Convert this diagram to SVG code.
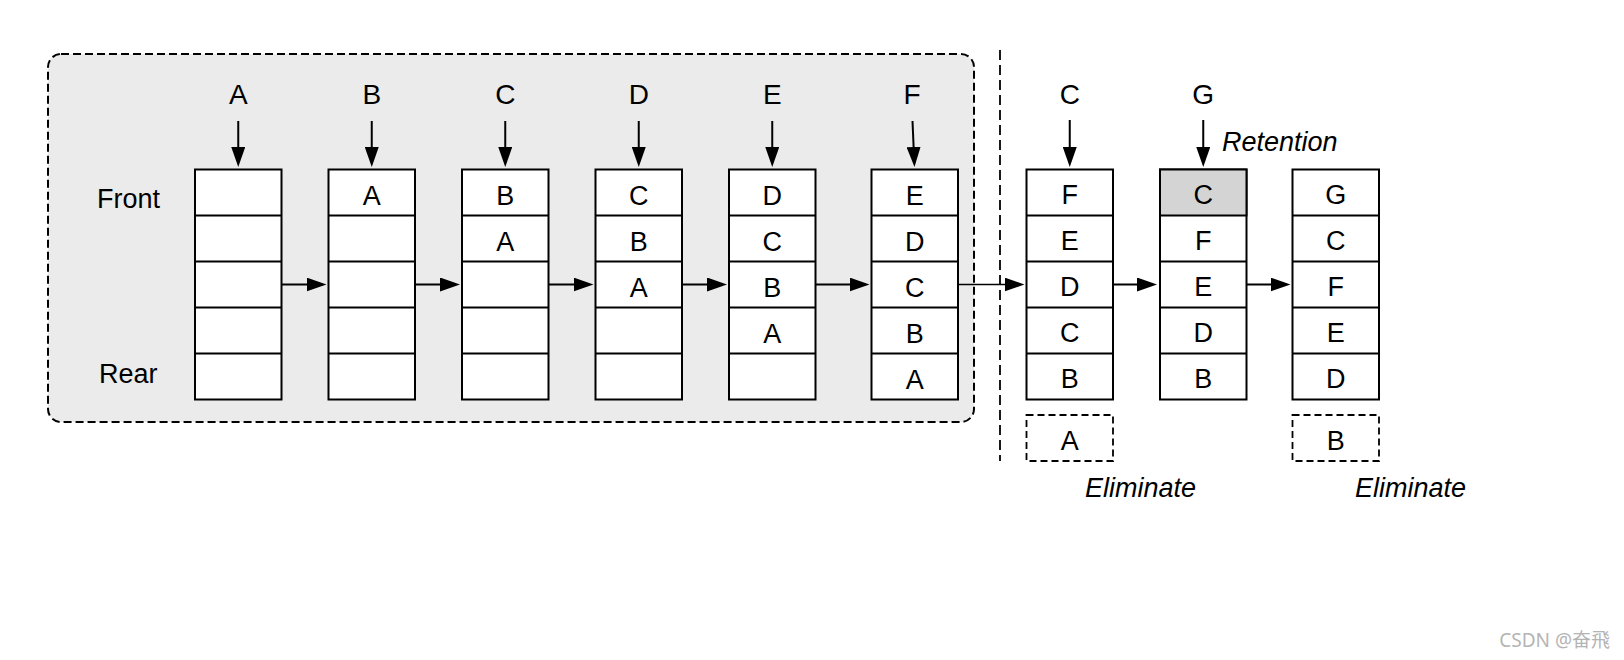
<svg xmlns="http://www.w3.org/2000/svg" width="1624" height="660" viewBox="0 0 1624 660">
<style>
  text { font-family: "Liberation Sans", Arial, Helvetica, sans-serif; fill: #000; }
  .lbl { font-size: 28px; text-anchor: middle; }
  .cell { font-size: 27px; text-anchor: middle; }
  .side { font-size: 27px; }
  .it { font-size: 27px; font-style: italic; }
  .box { fill: #fff; stroke: #000; stroke-width: 2; }
  .div { stroke: #000; stroke-width: 2; }
  .arr { stroke: #000; stroke-width: 2; fill: none; marker-end: url(#ah); }
  .dbox { fill: none; stroke: #000; stroke-width: 1.8; stroke-dasharray: 7 4; }
  .wm { font-family: "Noto Sans", "Noto Sans CJK SC", sans-serif; font-size: 19px; fill: #b4b4b4; text-anchor: end; }
</style>
<defs>
  <marker id="ah" markerUnits="userSpaceOnUse" markerWidth="20" markerHeight="14" refX="16" refY="7" orient="auto">
    <path d="M0,0 L20,7 L0,14 z" fill="#000"/>
  </marker>
</defs>
<rect width="1624" height="660" fill="#fff"/>

<g id="group-box">
  <rect x="48" y="54" width="926" height="368" rx="13" ry="13" fill="#ebebeb" stroke="#000" stroke-width="2" stroke-dasharray="8 4"/>
</g>
<g id="separator">
  <line x1="1000" y1="50" x2="1000" y2="461" stroke="#000" stroke-width="1.8" stroke-dasharray="10 5"/>
</g>

<g id="side-labels">
  <text class="side" x="97" y="208">Front</text>
  <text class="side" x="99" y="383">Rear</text>
</g>

<g id="col1">
  <text class="lbl" x="238.25" y="104">A</text>
  <rect class="box" x="195" y="169.5" width="86.5" height="230"/>
  <line class="div" x1="195" y1="215.5" x2="281.5" y2="215.5"/>
  <line class="div" x1="195" y1="261.5" x2="281.5" y2="261.5"/>
  <line class="div" x1="195" y1="307.5" x2="281.5" y2="307.5"/>
  <line class="div" x1="195" y1="353.5" x2="281.5" y2="353.5"/>
</g>
<g id="col2">
  <text class="lbl" x="371.75" y="104">B</text>
  <rect class="box" x="328.5" y="169.5" width="86.5" height="230"/>
  <line class="div" x1="328.5" y1="215.5" x2="415" y2="215.5"/>
  <line class="div" x1="328.5" y1="261.5" x2="415" y2="261.5"/>
  <line class="div" x1="328.5" y1="307.5" x2="415" y2="307.5"/>
  <line class="div" x1="328.5" y1="353.5" x2="415" y2="353.5"/>
  <text class="cell" x="371.75" y="204.5">A</text>
</g>
<g id="col3">
  <text class="lbl" x="505.25" y="104">C</text>
  <rect class="box" x="462" y="169.5" width="86.5" height="230"/>
  <line class="div" x1="462" y1="215.5" x2="548.5" y2="215.5"/>
  <line class="div" x1="462" y1="261.5" x2="548.5" y2="261.5"/>
  <line class="div" x1="462" y1="307.5" x2="548.5" y2="307.5"/>
  <line class="div" x1="462" y1="353.5" x2="548.5" y2="353.5"/>
  <text class="cell" x="505.25" y="204.5">B</text>
  <text class="cell" x="505.25" y="250.5">A</text>
</g>
<g id="col4">
  <text class="lbl" x="638.75" y="104">D</text>
  <rect class="box" x="595.5" y="169.5" width="86.5" height="230"/>
  <line class="div" x1="595.5" y1="215.5" x2="682" y2="215.5"/>
  <line class="div" x1="595.5" y1="261.5" x2="682" y2="261.5"/>
  <line class="div" x1="595.5" y1="307.5" x2="682" y2="307.5"/>
  <line class="div" x1="595.5" y1="353.5" x2="682" y2="353.5"/>
  <text class="cell" x="638.75" y="204.5">C</text>
  <text class="cell" x="638.75" y="250.5">B</text>
  <text class="cell" x="638.75" y="296.5">A</text>
</g>
<g id="col5">
  <text class="lbl" x="772.25" y="104">E</text>
  <rect class="box" x="729" y="169.5" width="86.5" height="230"/>
  <line class="div" x1="729" y1="215.5" x2="815.5" y2="215.5"/>
  <line class="div" x1="729" y1="261.5" x2="815.5" y2="261.5"/>
  <line class="div" x1="729" y1="307.5" x2="815.5" y2="307.5"/>
  <line class="div" x1="729" y1="353.5" x2="815.5" y2="353.5"/>
  <text class="cell" x="772.25" y="204.5">D</text>
  <text class="cell" x="772.25" y="250.5">C</text>
  <text class="cell" x="772.25" y="296.5">B</text>
  <text class="cell" x="772.25" y="342.5">A</text>
</g>
<g id="col6">
  <text class="lbl" x="912" y="104">F</text>
  <rect class="box" x="871.5" y="169.5" width="86.5" height="230"/>
  <line class="div" x1="871.5" y1="215.5" x2="958" y2="215.5"/>
  <line class="div" x1="871.5" y1="261.5" x2="958" y2="261.5"/>
  <line class="div" x1="871.5" y1="307.5" x2="958" y2="307.5"/>
  <line class="div" x1="871.5" y1="353.5" x2="958" y2="353.5"/>
  <text class="cell" x="914.75" y="204.5">E</text>
  <text class="cell" x="914.75" y="250.5">D</text>
  <text class="cell" x="914.75" y="296.5">C</text>
  <text class="cell" x="914.75" y="342.5">B</text>
  <text class="cell" x="914.75" y="388.5">A</text>
</g>
<g id="col7">
  <text class="lbl" x="1069.75" y="103.5">C</text>
  <rect class="box" x="1026.5" y="169.5" width="86.5" height="230"/>
  <line class="div" x1="1026.5" y1="215.5" x2="1113" y2="215.5"/>
  <line class="div" x1="1026.5" y1="261.5" x2="1113" y2="261.5"/>
  <line class="div" x1="1026.5" y1="307.5" x2="1113" y2="307.5"/>
  <line class="div" x1="1026.5" y1="353.5" x2="1113" y2="353.5"/>
  <text class="cell" x="1069.75" y="204">F</text>
  <text class="cell" x="1069.75" y="250">E</text>
  <text class="cell" x="1069.75" y="296">D</text>
  <text class="cell" x="1069.75" y="342">C</text>
  <text class="cell" x="1069.75" y="388">B</text>
</g>
<g id="evicted-A">
  <rect class="dbox" x="1026.5" y="415" width="86.5" height="46"/>
  <text class="cell" x="1069.75" y="449.5">A</text>
  <text class="it" x="1085" y="497">Eliminate</text>
</g>
<g id="col8">
  <text class="lbl" x="1203.25" y="103.5">G</text>
  <text class="it" x="1222" y="151">Retention</text>
  <rect class="box" x="1160" y="169.5" width="86.5" height="230"/>
  <rect x="1160" y="169.5" width="86.5" height="46" fill="#d4d4d4" stroke="#000" stroke-width="2"/>
  <line class="div" x1="1160" y1="261.5" x2="1246.5" y2="261.5"/>
  <line class="div" x1="1160" y1="307.5" x2="1246.5" y2="307.5"/>
  <line class="div" x1="1160" y1="353.5" x2="1246.5" y2="353.5"/>
  <text class="cell" x="1203.25" y="204">C</text>
  <text class="cell" x="1203.25" y="250">F</text>
  <text class="cell" x="1203.25" y="296">E</text>
  <text class="cell" x="1203.25" y="342">D</text>
  <text class="cell" x="1203.25" y="388">B</text>
</g>
<g id="col9">
  <rect class="box" x="1292.5" y="169.5" width="86.5" height="230"/>
  <line class="div" x1="1292.5" y1="215.5" x2="1379" y2="215.5"/>
  <line class="div" x1="1292.5" y1="261.5" x2="1379" y2="261.5"/>
  <line class="div" x1="1292.5" y1="307.5" x2="1379" y2="307.5"/>
  <line class="div" x1="1292.5" y1="353.5" x2="1379" y2="353.5"/>
  <text class="cell" x="1335.75" y="204">G</text>
  <text class="cell" x="1335.75" y="250">C</text>
  <text class="cell" x="1335.75" y="296">F</text>
  <text class="cell" x="1335.75" y="342">E</text>
  <text class="cell" x="1335.75" y="388">D</text>
</g>
<g id="evicted-B">
  <rect class="dbox" x="1292.5" y="415" width="86.5" height="46"/>
  <text class="cell" x="1335.75" y="449.5">B</text>
  <text class="it" x="1355" y="497">Eliminate</text>
</g>

<g id="connectors">
  <line class="arr" x1="238.25" y1="121" x2="238.25" y2="163"/>
  <line class="arr" x1="371.75" y1="121" x2="371.75" y2="163"/>
  <line class="arr" x1="505.25" y1="121" x2="505.25" y2="163"/>
  <line class="arr" x1="638.75" y1="121" x2="638.75" y2="163"/>
  <line class="arr" x1="772.25" y1="121" x2="772.25" y2="163"/>
  <line class="arr" x1="912.5" y1="121" x2="914.3" y2="163"/>
  <line class="arr" x1="1069.75" y1="120" x2="1069.75" y2="163"/>
  <line class="arr" x1="1203.25" y1="120" x2="1203.25" y2="163"/>

  <line class="arr" x1="281.5" y1="284.5" x2="322.5" y2="284.5"/>
  <line class="arr" x1="415" y1="284.5" x2="456" y2="284.5"/>
  <line class="arr" x1="548.5" y1="284.5" x2="589.5" y2="284.5"/>
  <line class="arr" x1="682" y1="284.5" x2="723" y2="284.5"/>
  <line class="arr" x1="815.5" y1="284.5" x2="865.5" y2="284.5"/>
  <line class="arr" style="stroke-width:1.4" x1="958" y1="284.5" x2="1020.5" y2="284.5"/>
  <line class="arr" x1="1113" y1="284.5" x2="1153" y2="284.5"/>
  <line class="arr" x1="1246.5" y1="284.5" x2="1286.5" y2="284.5"/>
</g>

<text class="wm" x="1610" y="647">CSDN @奋飛</text>
</svg>
